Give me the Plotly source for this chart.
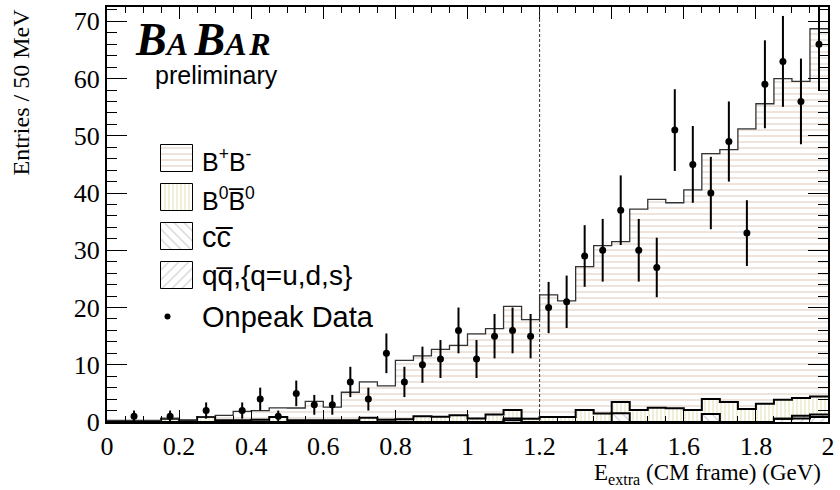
import plotly.graph_objects as go

# ---------------------------------------------------------------------------
# E_extra distribution, 50 MeV bins (bin centres in GeV)
# ---------------------------------------------------------------------------
e_centers = [0.025, 0.075, 0.125, 0.175, 0.225, 0.275, 0.325, 0.375, 0.425, 0.475,
             0.525, 0.575, 0.625, 0.675, 0.725, 0.775, 0.825, 0.875, 0.925, 0.975,
             1.025, 1.075, 1.125, 1.175, 1.225, 1.275, 1.325, 1.375, 1.425, 1.475,
             1.525, 1.575, 1.625, 1.675, 1.725, 1.775, 1.825, 1.875, 1.925, 1.975]
bin_width = 0.05

# on-peak data (entries per bin)
onpeak = [0, 1, 0, 1, 0, 2, 0, 2, 4, 1,
          5, 3, 3, 7, 4, 12, 7, 10, 11, 16,
          11, 15, 16, 15, 20, 21, 29, 30, 37, 30,
          27, 51, 45, 40, 49, 33, 59, 63, 56, 66]

# MC background components (stacked bottom -> top: uds, cc, B0B0bar, B+B-)
qq_uds = [0, 0, 0, 0, 0, 0, 0, 0, 0, 0,
          0, 0, 0, 0, 0, 0, 0, 0, 0, 0,
          0, 0, 0.3, 0, 0, 0, 0, 0, 0, 0,
          0, 0, 0, 0, 0, 0, 0, 0.57, 0.6, 0.86]
c_cbar = [0, 0, 0, 0, 0, 0, 0, 0, 0, 0,
          0, 0, 0, 0, 0, 0, 0, 0, 0, 0,
          0, 0, 0.3, 0, 0, 0, 0, 0, 1.55, 0,
          0, 0, 0, 1.4, 0, 0, 0, 0, 0.5, 0.44]
b0_b0bar = [0.1, 0.1, 0, 0.57, 0.2, 0.86, 0.3, 0.3, 0.4, 0.86,
            0.3, 0.3, 0.3, 0.3, 0.75, 0.4, 0.5, 1.0, 0.9, 1.2,
            0.6, 1.3, 1.5, 0.55, 0.86, 0.86, 2.1, 1.5, 1.95, 2.1,
            2.5, 2.4, 2.1, 2.6, 3.5, 2.25, 3.2, 3.33, 3.1, 3.15]
bp_bm = [0.2, 0.2, 0.3, 0.05, 0.15, 0.05, 0.85, 1.55, 1.6, 1.6,
         2.15, 3.3, 2.3, 4.9, 6.25, 5.9, 10.25, 10.55, 11.8, 12.2,
         14.8, 15.0, 18.1, 17.35, 21.35, 20.3, 25.05, 29.3, 28.0, 35.1,
         36.4, 35.9, 38.45, 42.9, 44.1, 48.95, 52.4, 56.1, 55.3, 64.25]

E_CUT = 1.2          # signal-region boundary (GeV)
X_RANGE = [0, 2]
Y_RANGE = [0, 72.5]

SERIF = "Liberation Serif, Times New Roman, serif"
SANS = "Liberation Sans, Arial, Helvetica, sans-serif"

# cumulative stack heights
s1 = [a for a in qq_uds]
s2 = [a + b for a, b in zip(s1, c_cbar)]
s3 = [a + b for a, b in zip(s2, b0_b0bar)]
s4 = [a + b for a, b in zip(s3, bp_bm)]

styles = {
    "bpbm": dict(shape="-", fg="#e0d2c6", size=6, solidity=0.2),
    "b0":   dict(shape="|", fg="#e6dfb4", size=4, solidity=0.25),
    "cc":   dict(shape="\\", fg="#c8c8c8", size=7, solidity=0.15),
    "qq":   dict(shape="/", fg="#c8c8c8", size=7, solidity=0.15),
}


def pattern(key):
    st = styles[key]
    return dict(shape=st["shape"], fgcolor=st["fg"], size=st["size"],
                solidity=st["solidity"], fillmode="overlay", fgopacity=1)


fig = go.Figure()

# stacked histogram drawn as overlaid cumulative bars (tallest first)
for key, cum in [("bpbm", s4), ("b0", s3), ("cc", s2), ("qq", s1)]:
    fig.add_trace(go.Bar(
        x=e_centers, y=cum, width=bin_width,
        marker=dict(color="white", line=dict(width=0), pattern=pattern(key)),
        showlegend=False, hoverinfo="skip"))

# step outlines of each stack level
edges = [c - bin_width / 2 for c in e_centers] + [e_centers[-1] + bin_width / 2]
for cum, col, w in [(s1, "black", 2), (s2, "black", 2), (s3, "black", 2), (s4, "#333333", 1.3)]:
    fig.add_trace(go.Scatter(
        x=edges, y=list(cum) + [cum[-1]], mode="lines",
        line=dict(color=col, width=w, shape="hv"),
        showlegend=False, hoverinfo="skip"))

# data points with Poisson errors (empty bins not drawn)
pts = [(c, n) for c, n in zip(e_centers, onpeak) if n > 0]
fig.add_trace(go.Scatter(
    x=[p[0] for p in pts], y=[p[1] for p in pts], mode="markers",
    marker=dict(color="black", size=7),
    error_y=dict(type="data", array=[p[1] ** 0.5 for p in pts],
                 color="black", thickness=2, width=0),
    showlegend=False))

# ---------------------------------------------------------------------------
# legend (swatches on a pixel-scaled overlay axis)
# ---------------------------------------------------------------------------
PLOT_L, PLOT_T, PLOT_W, PLOT_H = 107, 5, 721, 417
sw_x0, sw_x1 = 160.5, 193
sw_boxes = [("bpbm", 144, 171), ("b0", 183, 210), ("cc", 222, 249), ("qq", 261, 288)]
for key, top, bot in sw_boxes:
    fig.add_trace(go.Bar(
        x=[(sw_x0 + sw_x1) / 2 - PLOT_L], y=[bot - top],
        base=[PLOT_T + PLOT_H - bot], width=[sw_x1 - sw_x0],
        xaxis="x2", yaxis="y2",
        marker=dict(color="white", line=dict(color="black", width=1),
                    pattern=pattern(key)),
        showlegend=False, hoverinfo="skip"))
fig.add_trace(go.Scatter(
    x=[167.5 - PLOT_L], y=[PLOT_T + PLOT_H - 316], mode="markers",
    marker=dict(color="black", size=6), xaxis="x2", yaxis="y2",
    showlegend=False, hoverinfo="skip"))

legend_text = [
    ("B<sup>+</sup>B<sup>-</sup>", 159, 25),
    ("B<sup>0</sup>B\u0305<sup>0</sup>", 198, 25),
    ("cc\u0305", 236, 29),
    ("qq\u0305,{q=u,d,s}", 275, 28),
    ("Onpeak Data", 316, 29),
]
annotations = []
for txt, yc, fs in legend_text:
    annotations.append(dict(
        text=txt, xref="paper", yref="paper",
        x=(200 - PLOT_L) / PLOT_W, y=(PLOT_T + PLOT_H - yc) / PLOT_H,
        xanchor="left", yanchor="middle", showarrow=False,
        font=dict(family=SANS, size=fs, color="black")))

# experiment logo
annotations.append(dict(
    text="<b><i>B<span style='font-size:32px'>A\u2009</span>B<span style='font-size:32px'>A\u200aR</span></i></b>",
    xref="paper", yref="paper", x=(133 - PLOT_L) / PLOT_W, y=(PLOT_T + PLOT_H - 38) / PLOT_H,
    xanchor="left", yanchor="middle", showarrow=False,
    font=dict(family=SERIF, size=46, color="black")))
annotations.append(dict(
    text="preliminary", xref="paper", yref="paper",
    x=(153 - PLOT_L) / PLOT_W, y=(PLOT_T + PLOT_H - 73) / PLOT_H,
    xanchor="left", yanchor="middle", showarrow=False,
    font=dict(family=SANS, size=25, color="black")))

# axis titles (ROOT style: right/top aligned)
annotations.append(dict(
    text="Entries / 50 MeV", textangle=-90, xref="paper", yref="paper",
    x=(20 - PLOT_L) / PLOT_W, y=1.0, xanchor="center", yanchor="top",
    showarrow=False, font=dict(family=SERIF, size=24, color="black")))
annotations.append(dict(
    text="E<sub>extra</sub> (CM frame) (GeV)", xref="paper", yref="paper",
    x=1.0 - 5 / PLOT_W, y=(PLOT_T + PLOT_H - 474) / PLOT_H,
    xanchor="right", yanchor="middle", showarrow=False,
    font=dict(family=SERIF, size=23, color="black")))

axis_common = dict(
    showline=True, linecolor="black", linewidth=2, mirror="allticks",
    ticks="inside", tickcolor="black", tickwidth=1,
    showgrid=False, zeroline=False,
    tickfont=dict(family=SERIF, size=26, color="black"),
)

fig.update_layout(
    width=840, height=490,
    margin=dict(l=PLOT_L, r=840 - PLOT_L - PLOT_W, t=PLOT_T, b=490 - PLOT_T - PLOT_H, pad=0),
    paper_bgcolor="white", plot_bgcolor="white",
    barmode="overlay", bargap=0,
    showlegend=False,
    xaxis=dict(range=X_RANGE, tick0=0, dtick=0.2, ticklen=12,
               minor=dict(dtick=0.05, ticklen=6, ticks="inside", tickcolor="black", tickwidth=1),
               **axis_common),
    yaxis=dict(range=Y_RANGE, tick0=0, dtick=10, ticklen=20,
               minor=dict(dtick=2, ticklen=10, ticks="inside", tickcolor="black", tickwidth=1),
               **axis_common),
    xaxis2=dict(range=[0, PLOT_W], overlaying="x", visible=False, anchor="y2"),
    yaxis2=dict(range=[0, PLOT_H], overlaying="y", visible=False, anchor="x2"),
    annotations=annotations,
    shapes=[dict(type="line", xref="x", yref="paper", x0=E_CUT, x1=E_CUT, y0=0, y1=1,
                 line=dict(color="#333333", width=1, dash="3px,2px"))],
)

fig.write_html("out.html")
